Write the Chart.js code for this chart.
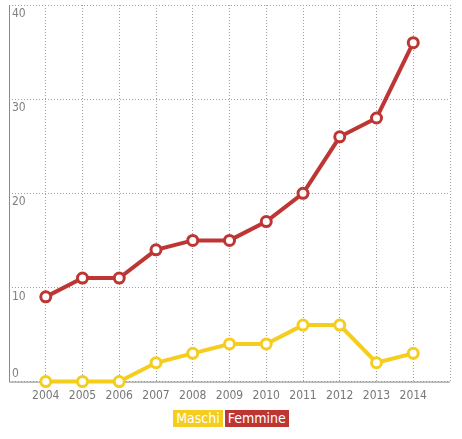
<!DOCTYPE html>
<html>
<head>
<meta charset="utf-8">
<script src="https://cdn.jsdelivr.net/npm/chart.js@4/dist/chart.umd.min.js"></script>
<style>
html,body{margin:0;padding:0;background:#fff;overflow:hidden;}
#wrap{position:relative;width:462px;height:439px;overflow:hidden;}
#c{position:absolute;left:0;top:-3px;}
#legend{position:absolute;left:0;top:410px;width:462px;text-align:center;font-family:"DejaVu Sans Condensed","Liberation Sans Narrow",sans-serif;font-size:14px;}
#legend span{display:inline-block;color:#fff;height:17px;line-height:17px;padding:0 3px;margin:0 1px;vertical-align:top;}
</style>
</head>
<body>
<div id="wrap">
<canvas id="c" width="462" height="413"></canvas>
<div id="legend"></div>
</div>
<script>
const years = [2004,2005,2006,2007,2008,2009,2010,2011,2012,2013,2014];
const maschi = [0,0,0,2,3,4,4,6,6,2,3];
const femmine = [9,11,11,14,15,15,17,20,26,28,36];
const seriesNames = ["Maschi","Femmine"];
const seriesColors = ["#f4cd1f","#be3634"];
const yTicks = [0,10,20,30,40];

const FONT = '"DejaVu Sans Condensed","Liberation Sans Narrow",sans-serif';

const yLabelPlugin = {
  id:'yLabels',
  beforeDatasetsDraw(chart){
    const ctx = chart.ctx, a = chart.chartArea;
    ctx.save();
    ctx.strokeStyle = '#8a8a8a';
    ctx.lineWidth = 1;
    ctx.beginPath();
    ctx.moveTo(a.left+0.5, a.top);
    ctx.lineTo(a.left+0.5, a.bottom+0.5);
    ctx.lineTo(a.right, a.bottom+0.5);
    ctx.stroke();
    ctx.restore();
  },
  afterDraw(chart){
    const ctx = chart.ctx, ys = chart.scales.y, area = chart.chartArea;
    ctx.save();
    ctx.font = '12px ' + FONT;
    ctx.fillStyle = '#808080';
    ctx.textAlign = 'left';
    yTicks.forEach(v=>{
      const py = ys.getPixelForValue(v);
      if (v === 0) { ctx.textBaseline='bottom'; ctx.fillText(String(v), area.left+3, py-2); }
      else { ctx.textBaseline='top'; ctx.fillText(String(v), area.left+3, py+3); }
    });
    ctx.restore();
  }
};

const mk = (name, data, color) => ({
  label: name,
  data: years.map((y,i)=>({x:y, y:data[i]})),
  borderColor: color,
  backgroundColor: '#fff',
  pointBackgroundColor: '#fff',
  pointBorderColor: color,
  pointBorderWidth: 3,
  pointRadius: 5,
  borderWidth: 4,
  tension: 0,
  clip: false,
});

new Chart(document.getElementById('c'), {
  type:'line',
  data:{datasets:[mk(seriesNames[1], femmine, seriesColors[1]), mk(seriesNames[0], maschi, seriesColors[0])]},
  options:{
    responsive:false,
    animation:false,
    layout:{padding:{left:9,right:12,top:0,bottom:0}},
    plugins:{legend:{display:false},tooltip:{enabled:false}},
    scales:{
      x:{
        type:'linear', min:2003, max:2015,
        grid:{color:'#a0a0a0', lineWidth:1, drawTicks:false},
        border:{display:false, dash:[1,2]},
        ticks:{stepSize:1, padding:7, color:'#777', font:{family:FONT,size:12},
          callback:(v)=> (v>=years[0] && v<=years[years.length-1]) ? String(v) : '' ,
          maxRotation:0, autoSkip:false}
      },
      y:{
        min:0, max:40,
        grid:{color:'#a0a0a0', lineWidth:1, drawTicks:false},
        border:{display:false, dash:[1,2]},
        ticks:{stepSize:10, display:false}
      }
    }
  },
  plugins:[yLabelPlugin]
});

const lg = document.getElementById('legend');
seriesNames.forEach((n,i)=>{
  const s=document.createElement('span'); s.textContent=n; s.style.background=seriesColors[i]; lg.appendChild(s);
});
</script>
</body>
</html>
